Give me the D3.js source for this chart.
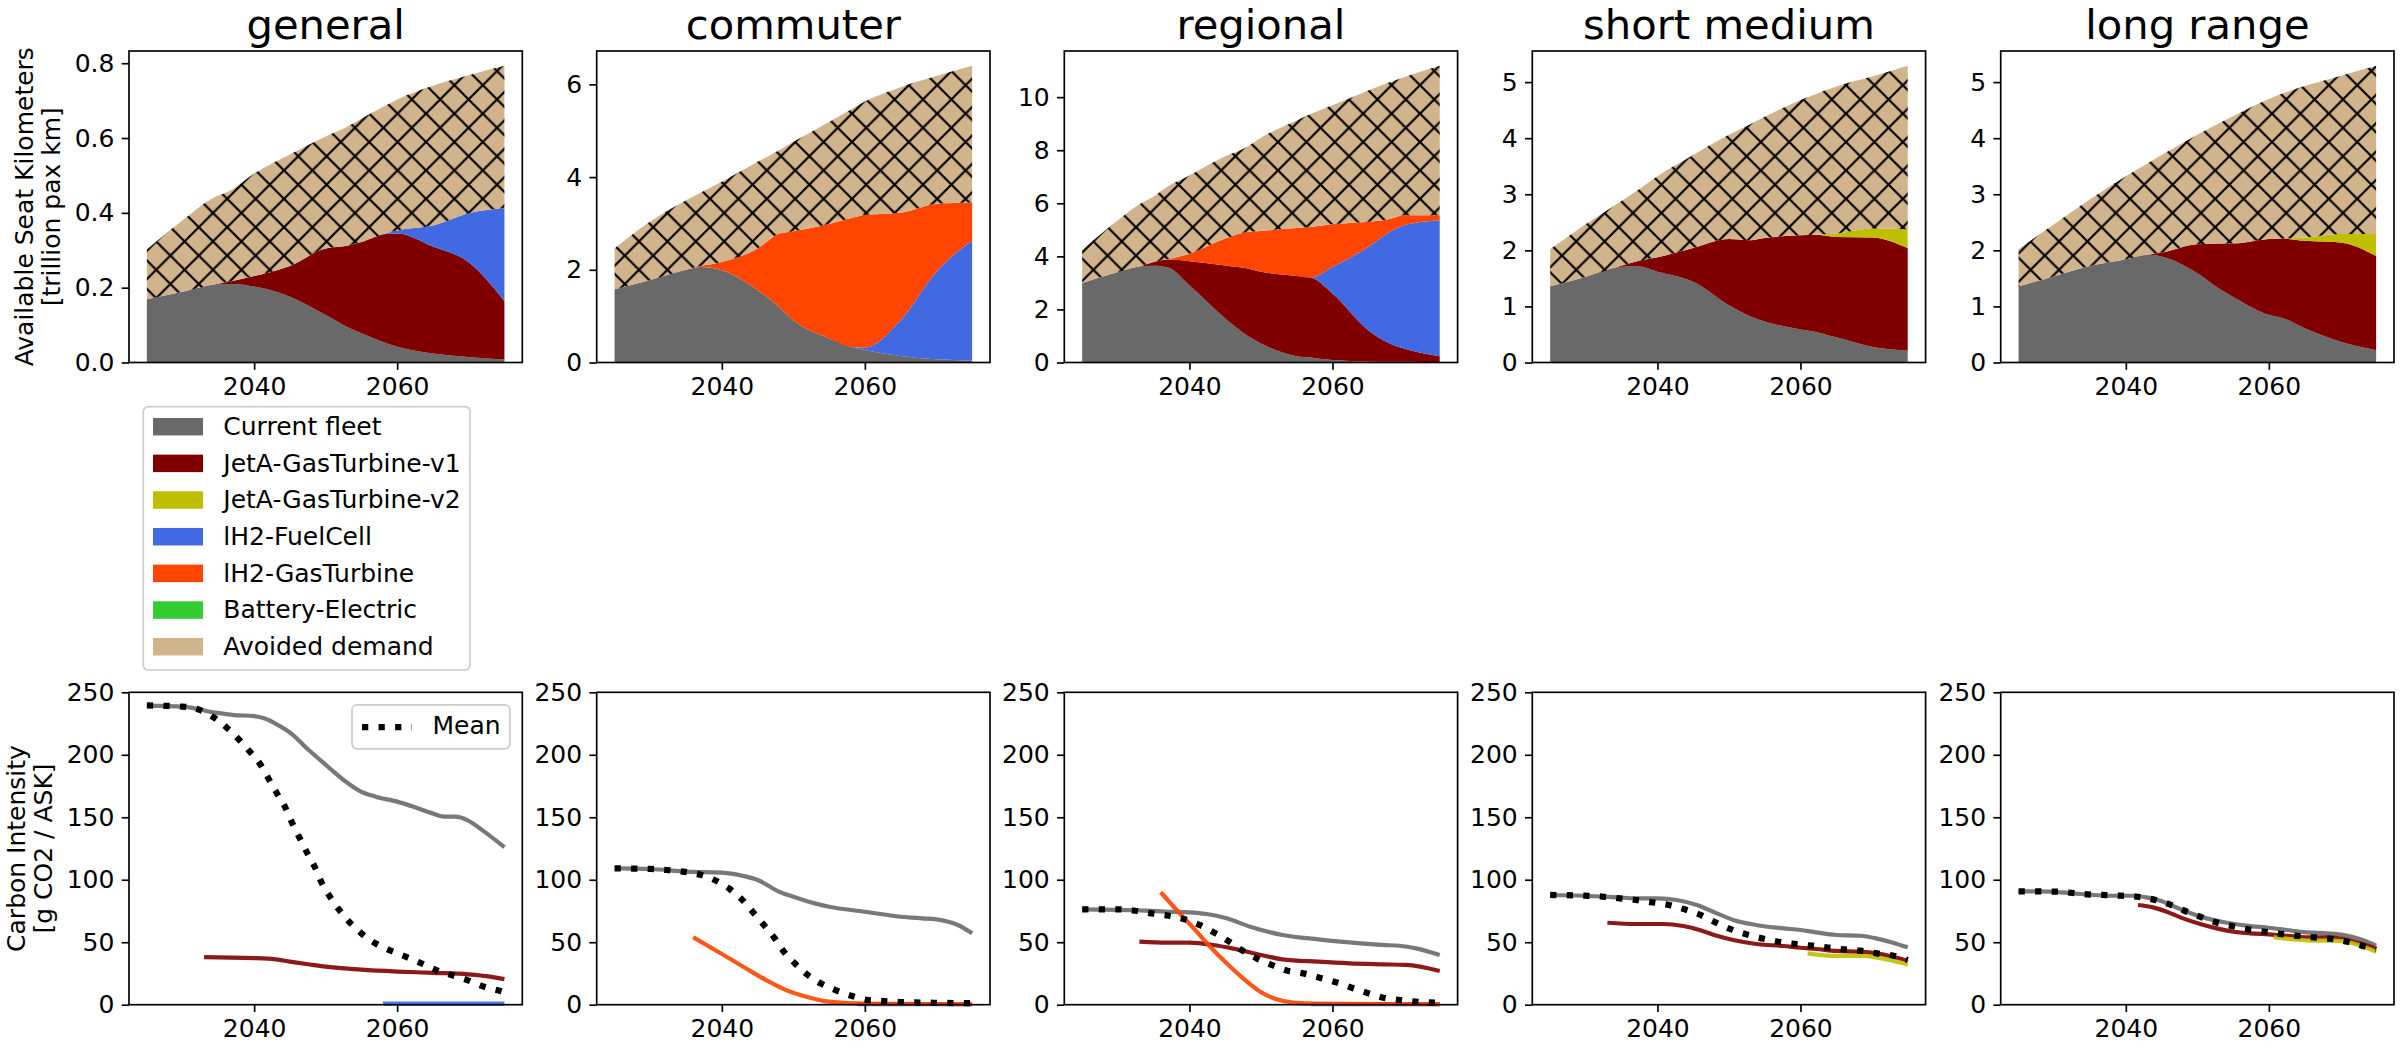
<!DOCTYPE html>
<html>
<head>
<meta charset="utf-8">
<script src="https://cdn.jsdelivr.net/npm/d3@7"></script>
<style>
  body { margin: 0; background: #fff; }
  svg { display: block; font-family: "DejaVu Sans", sans-serif; }
</style>
</head>
<body>
<svg id="chart" width="2400" height="1050"></svg>
<script>
// ---------------- data ----------------
const panelTitles = ["general", "commuter", "regional", "short medium", "long range"];
const techNames = ["Current fleet", "JetA-GasTurbine-v1", "JetA-GasTurbine-v2", "lH2-FuelCell",
                   "lH2-GasTurbine", "Battery-Electric", "Avoided demand"];
const techColors = ["#696969", "#800000", "#bfbf00", "#4169e1", "#ff4500", "#32cd32", "#d2b48c"];

const xTicks = [2040, 2060];
const topTicks = [[0, 0.2, 0.4, 0.6, 0.8], [0, 2, 4, 6], [0, 2, 4, 6, 8, 10], [0, 1, 2, 3, 4, 5], [0, 1, 2, 3, 4, 5]];
const ciTicks = [0, 50, 100, 150, 200, 250];

// available seat km per technology [trillion pax km]
const genYears   = [2025, 2030, 2034, 2037, 2040, 2045, 2050, 2053, 2055, 2058, 2060, 2065, 2070, 2075];
const genFleet   = [.169, .189, .207, .210, .203, .176, .127, .095, .078, .055, .042, .024, .015, .008];
const genV1      = [0, 0, 0, .008, .028, .082, .178, .217, .244, .288, .303, .286, .253, .156];
const genFC      = [0, 0, 0, 0, 0, 0, 0, 0, 0, 0, .008, .056, .131, .248];
const genAvoided = [.133, .191, .230, .245, .274, .298, .299, .318, .330, .340, .350, .374, .369, .381];

const comYears   = [2025, 2030, 2035, 2037, 2040, 2045, 2048, 2050, 2055, 2058, 2060, 2065, 2070, 2075];
const comFleet   = [1.58, 1.78, 2.0, 2.06, 1.99, 1.56, 1.2, .91, .52, .34, .27, .14, .07, .04];
const comFC      = [0, 0, 0, 0, 0, 0, 0, 0, 0, 0, .05, .77, 1.89, 2.59];
const comGT      = [0, 0, 0, .02, .18, .90, 1.58, 1.92, 2.47, 2.77, 2.86, 2.32, 1.46, .82];
const comAvoided = [.88, 1.26, 1.50, 1.58, 1.73, 1.87, 1.80, 1.93, 2.20, 2.34, 2.45, 2.71, 2.76, 2.95];

const regYears   = [2025, 2030, 2033, 2035, 2037, 2040, 2045, 2048, 2050, 2055, 2057, 2060, 2065, 2068, 2070, 2075];
const regFleet   = [3.0, 3.41, 3.62, 3.65, 3.58, 2.91, 1.66, 1.03, .72, .24, .19, .09, .04, .03, .025, .01];
const regV1      = [0, 0, 0, .14, .30, .91, 2.0, 2.52, 2.70, 3.02, 3.01, 2.51, 1.18, .69, .505, .23];
const regFC      = [0, 0, 0, 0, 0, 0, 0, 0, 0, 0, 0, 1.0, 3.13, 4.2, 4.64, 5.12];
const regGT      = [0, 0, 0, 0, .02, .28, 1.01, 1.37, 1.54, 1.81, 1.91, 1.61, .95, .49, .38, .19];
const regAvoided = [1.25, 1.95, 2.34, 2.47, 2.74, 2.95, 3.10, 3.20, 3.51, 4.05, 4.26, 4.48, 4.95, 5.15, 5.20, 5.63];

const smYears    = [2025, 2030, 2034, 2037, 2040, 2045, 2050, 2053, 2055, 2060, 2062, 2065, 2070, 2075];
const smFleet    = [1.36, 1.53, 1.69, 1.72, 1.62, 1.44, 1.02, .82, .73, .59, .55, .45, .28, .21];
const smV1       = [0, 0, 0, .08, .255, .60, 1.18, 1.36, 1.49, 1.68, 1.73, 1.79, 1.95, 1.83];
const smV2       = [0, 0, 0, 0, 0, 0, 0, 0, 0, 0, 0, .06, .16, .335];
const smAvoided  = [.66, .94, 1.11, 1.25, 1.445, 1.66, 1.86, 2.07, 2.16, 2.41, 2.50, 2.62, 2.71, 2.915];

const lrYears    = [2025, 2030, 2035, 2040, 2043, 2045, 2050, 2053, 2055, 2060, 2062, 2065, 2070, 2075];
const lrFleet    = [1.36, 1.54, 1.72, 1.84, 1.92, 1.89, 1.59, 1.32, 1.17, .85, .79, .61, .37, .22];
const lrV1       = [0, 0, 0, 0, 0, .07, .52, .80, .95, 1.35, 1.42, 1.56, 1.77, 1.68];
const lrV2       = [0, 0, 0, 0, 0, 0, 0, 0, 0, 0, 0, .06, .15, .39];
const lrAvoided  = [.66, .93, 1.19, 1.48, 1.63, 1.74, 1.95, 2.14, 2.27, 2.50, 2.59, 2.70, 2.82, 3.00];

// carbon intensity [g CO2 / ASK] as [year, value]
const genCiFleet = [[2025,239.3],[2030,238.5],[2034.6,233.7],[2037.2,231.8],[2040,231],[2041.5,229],[2043.1,224.6],[2045.2,217],[2047.4,205],[2049,197],[2050.6,189],[2052.7,179],[2054.8,171],[2057,166.5],[2060,162.5],[2062.3,158.4],[2065,153],[2066.6,150.5],[2068.2,150.5],[2069.8,147.7],[2071.9,139.7],[2075,126]];
const genCiV1    = [[2033,38],[2035,37.8],[2040,37.3],[2043,36.3],[2045,34.5],[2048,32],[2050,30.5],[2055,28],[2060,26.5],[2065,25.5],[2070,24.3],[2073,22.5],[2075,20.5]];
const genCiFC    = [[2058,0.8],[2075,0.8]];
const genCiMean  = [[2025,239.5],[2030,238.5],[2032.4,235.9],[2034.4,229.7],[2036.3,221],[2037.9,212],[2039.4,202.5],[2040.9,192],[2042,181],[2043.2,169],[2044.3,158.5],[2045.3,145.7],[2046.4,133],[2047.4,121.7],[2048.5,110],[2049.4,98],[2050.6,86.4],[2051.9,75.8],[2053.4,65.6],[2055.1,56.6],[2057,49],[2059.1,43.2],[2061.2,38.4],[2063.4,33.1],[2065.5,27.7],[2067.6,23.7],[2069.8,19.7],[2072.2,14.4],[2074.3,11.2],[2075,10]];

const comCiFleet = [[2025,109.1],[2030,108.6],[2035,106.5],[2040,105.7],[2043,103],[2045,99.8],[2048,90.4],[2050,86.4],[2053,81.1],[2055,78.4],[2060,74.4],[2065,70.4],[2068,69.1],[2070,68.3],[2073,63.8],[2075,57.1]];
const comCiFC    = [[2059,0.5],[2075,0.5]];
const comCiGT    = [[2036,54],[2040,40.6],[2043.4,29],[2046.2,19.7],[2049,11.7],[2051.8,6.4],[2055,2.4],[2060,0.8],[2075,0.5]];
const comCiMean  = [[2025,109.1],[2030,108.6],[2032.3,107.8],[2034.6,106.5],[2036.8,104.3],[2039,99.8],[2041,93.1],[2042.8,84.3],[2044.3,74.4],[2045.8,64.3],[2047.3,53.9],[2048.6,43],[2050.2,33.1],[2051.9,24.3],[2053.8,17.1],[2055.9,11.7],[2058.1,7.2],[2060.5,3.7],[2062.7,2.9],[2065,2.1],[2070,1.5],[2075,1.2]];

const regCiFleet = [[2025,76.3],[2032,75.7],[2037,74.4],[2040,73.9],[2042.4,72.6],[2045.2,69.1],[2048.5,62.4],[2053,55.8],[2058,52.3],[2062.4,49.9],[2067,47.8],[2069.4,47.2],[2071.7,45.1],[2075,39.8]];
const regCiV1    = [[2033,50.4],[2037,49.6],[2040,49.6],[2043.3,47.8],[2046,45.1],[2050,39.8],[2053,36.3],[2058,34.4],[2062.4,33.1],[2067,32.3],[2070.3,31.8],[2075,27]];
const regCiFC    = [[2057,0.5],[2075,0.5]];
const regCiGT    = [[2036,90],[2038.2,75.8],[2040.6,61.1],[2042.9,46.4],[2045.2,33.1],[2047.5,21.1],[2049.9,10.4],[2052.2,4.3],[2054.5,1.6],[2057.8,0.8],[2075,0.5]];
const regCiMean  = [[2025,76.3],[2030.2,76.3],[2032.4,75.2],[2034.7,73.1],[2037.1,71.2],[2039.3,68.3],[2041.4,63.8],[2043.5,57.6],[2045.4,51],[2047.3,43.8],[2049.4,37.1],[2051.5,31.8],[2053.7,27.2],[2055.9,25.1],[2058.2,21.6],[2060.5,17.9],[2062.7,13.6],[2064.8,9.6],[2067.1,5.6],[2069.4,3.7],[2071.7,2.4],[2075,1.6]];

const smCiFleet  = [[2025,87.8],[2029.6,87.2],[2034.3,85.9],[2037,85.1],[2040,85.1],[2042.7,83.8],[2045.5,79.8],[2048.3,73.1],[2050.6,67.8],[2053.8,63.8],[2057.6,61.1],[2060,59.8],[2062.2,57.9],[2065,55.8],[2068.3,55.2],[2070.6,53.1],[2072.9,49.6],[2075,45.9]];
const smCiV1     = [[2033,65.6],[2037,64.6],[2040.8,64.6],[2043.6,63],[2045.9,59.8],[2048.3,55.2],[2050.6,51.8],[2053.8,48.6],[2057.6,47],[2060,45.6],[2062.2,44.6],[2065,43],[2068.3,42.4],[2070.6,41.1],[2072.9,38.4],[2075,35.2]];
const smCiV2     = [[2061,41.1],[2065,39],[2068.3,39],[2070.6,37.9],[2072.9,35.2],[2075,32.3]];
const smCiMean   = [[2025,87.8],[2030,87.2],[2032.3,86.5],[2034.7,85.1],[2037,83.8],[2039.3,81.9],[2041.6,79.8],[2043.8,76.3],[2046,71.8],[2048.1,65.9],[2050.3,60.3],[2052.4,56.3],[2054.6,53.1],[2056.9,50.4],[2059.2,48.6],[2061.6,47.2],[2063.9,45.6],[2066.1,44.3],[2068.4,43.2],[2070.7,41.1],[2073,39.2],[2075,35.8]];

const lrCiFleet  = [[2025,90.7],[2029.3,90.5],[2032.6,89.1],[2035.4,87.8],[2038.2,87.2],[2041,87.2],[2042.9,85.9],[2044.8,83.2],[2046.6,79],[2048.5,74.4],[2051.3,69.1],[2054.1,65.6],[2057.4,62.9],[2060,61.6],[2062.5,59.8],[2065.3,57.9],[2068.1,57.1],[2070.5,55.8],[2072.8,52.3],[2075,47.2]];
const lrCiV1     = [[2041.7,79.8],[2043.8,77.9],[2045.7,74.4],[2048,69.1],[2050.4,64.6],[2052.7,61.1],[2055.1,58.4],[2057.4,57.1],[2060,56.3],[2062.5,55.2],[2065.3,53.9],[2068.1,53.9],[2070.5,52.6],[2072.8,49.1],[2075,44.6]];
const lrCiV2     = [[2060.7,53.9],[2063.5,52.3],[2066.3,51.2],[2069.1,51.2],[2071.4,49.6],[2075,42.4]];
const lrCiMean   = [[2025,90.7],[2030,90.5],[2034.6,88.3],[2039.3,87.2],[2041.6,86.4],[2043.8,84.3],[2046.1,80.3],[2048.2,75.2],[2050.4,70.4],[2052.6,65.9],[2054.8,63],[2057.1,60.3],[2059.4,58.4],[2061.6,56.6],[2064,55],[2066.3,53.9],[2068.6,52.8],[2071,50.4],[2073,47.2],[2075,44.5]];

// tables built from the arrays above (series order = techNames)
const askTables = [
  { years: genYears, series: [genFleet, genV1, null, genFC, null, null, genAvoided] },
  { years: comYears, series: [comFleet, null, null, comFC, comGT, null, comAvoided] },
  { years: regYears, series: [regFleet, regV1, null, regFC, regGT, null, regAvoided] },
  { years: smYears,  series: [smFleet, smV1, smV2, null, null, null, smAvoided] },
  { years: lrYears,  series: [lrFleet, lrV1, lrV2, null, null, null, lrAvoided] }
];
const ciTables = [
  { lines: [genCiFleet, genCiV1, null, genCiFC, null, null], mean: genCiMean },
  { lines: [comCiFleet, null, null, comCiFC, comCiGT, null], mean: comCiMean },
  { lines: [regCiFleet, regCiV1, null, regCiFC, regCiGT, null], mean: regCiMean },
  { lines: [smCiFleet, smCiV1, smCiV2, null, null, null], mean: smCiMean },
  { lines: [lrCiFleet, lrCiV1, lrCiV2, null, null, null], mean: lrCiMean }
];

// ---------------- layout ----------------
const colX = [129, 596.7, 1064.3, 1532.3, 2000.7];
const axW = 393.3;
const topRow = { y0: 51, y1: 362.5 };
const botRow = { y0: 692.3, y1: 1004.7 };
const fs = 25, titleFs = 41.7, spineW = 1.67, tickLen = 7.3;
const hs = 28.4;   // hatch cell

const svg = d3.select("#chart");
svg.append("rect").attr("width", 2400).attr("height", 1050).attr("fill", "#fff");

const defs = svg.append("defs");
const hatch = defs.append("pattern")
    .attr("id", "hatchX")
    .attr("patternUnits", "userSpaceOnUse")
    .attr("width", hs).attr("height", hs);
hatch.append("rect").attr("width", hs).attr("height", hs).attr("fill", techColors[6]);
const e = 6;
hatch.append("path")
    .attr("d", `M0,${hs}L${hs},0M${-e},${e}L${e},${-e}M${hs - e},${hs + e}L${hs + e},${hs - e}` +
               `M0,0L${hs},${hs}M${-e},${hs - e}L${e},${hs + e}M${hs - e},${-e}L${hs + e},${e}`)
    .attr("stroke", "#000").attr("stroke-width", 2.2).attr("fill", "none");

const fillFor = k => k === 6 ? "url(#hatchX)" : techColors[k];

function styleAxis(g) {
  g.select(".domain").remove();
  g.selectAll(".tick line").attr("stroke", "#000").attr("stroke-width", spineW);
  g.selectAll(".tick text").attr("fill", "#000").style("font-size", fs + "px")
    .style("font-family", "'DejaVu Sans', sans-serif");
}

function drawFrame(i, x, y, row, yTickVals, yFmt) {
  svg.append("g")
      .attr("transform", `translate(0,${row.y1})`)
      .call(d3.axisBottom(x).tickValues(xTicks).tickSize(tickLen).tickPadding(7.3).tickFormat(d3.format("d")))
      .call(styleAxis);
  svg.append("g")
      .attr("transform", `translate(${colX[i]},0)`)
      .call(d3.axisLeft(y).tickValues(yTickVals).tickSize(tickLen).tickPadding(7.3).tickFormat(yFmt))
      .call(styleAxis);
  svg.append("rect")
      .attr("x", colX[i]).attr("y", row.y0)
      .attr("width", axW).attr("height", row.y1 - row.y0)
      .attr("fill", "none").attr("stroke", "#000").attr("stroke-width", spineW);
}

// ---------------- top row: stacked ASK ----------------
askTables.forEach((tbl, i) => {
  const rows = tbl.years.map((yr, j) => {
    const r = { year: yr };
    techNames.forEach((n, k) => { r[n] = tbl.series[k] ? tbl.series[k][j] : 0; });
    return r;
  });
  const stacked = d3.stack().keys(techNames)(rows);
  const ymax = d3.max(stacked[stacked.length - 1], d => d[1]) * 1.05;

  const x = d3.scaleLinear().domain([2022.5, 2077.5]).range([colX[i], colX[i] + axW]);
  const y = d3.scaleLinear().domain([0, ymax]).range([topRow.y1, topRow.y0]);

  const area = d3.area()
      .x(d => x(d.data.year))
      .y0(d => y(d[0]))
      .y1(d => y(d[1]))
      .curve(d3.curveMonotoneX);

  svg.append("g").selectAll("path")
    .data(stacked)
    .join("path")
      .attr("d", area)
      .attr("fill", (d, k) => fillFor(k));

  drawFrame(i, x, y, topRow, topTicks[i], i === 0 ? d3.format(".1f") : d3.format("d"));

  svg.append("text")
      .attr("x", colX[i] + axW / 2).attr("y", topRow.y0 - 12.5)
      .attr("text-anchor", "middle")
      .style("font-size", titleFs + "px")
      .text(panelTitles[i]);
});

// ---------------- bottom row: carbon intensity ----------------
ciTables.forEach((tbl, i) => {
  const x = d3.scaleLinear().domain([2022.5, 2077.5]).range([colX[i], colX[i] + axW]);
  const y = d3.scaleLinear().domain([0, 250]).range([botRow.y1, botRow.y0]);
  const line = d3.line().x(d => x(d[0])).y(d => y(d[1])).curve(d3.curveMonotoneX);

  const g = svg.append("g");
  tbl.lines.forEach((pts, k) => {
    if (!pts) return;
    g.append("path")
        .attr("d", line(pts))
        .attr("fill", "none")
        .attr("stroke", techColors[k])
        .attr("stroke-opacity", 0.9)
        .attr("stroke-width", 4.2);
  });
  g.append("path")
      .attr("d", line(tbl.mean))
      .attr("fill", "none")
      .attr("stroke", "#000")
      .attr("stroke-width", 6.25)
      .attr("stroke-dasharray", "6.25,10.3");

  drawFrame(i, x, y, botRow, ciTicks, d3.format("d"));
});

// ---------------- axis labels ----------------
function yLabel(lines, cx, cy) {
  const t = svg.append("text")
      .attr("transform", `translate(${cx},${cy}) rotate(-90)`)
      .attr("text-anchor", "middle")
      .style("font-size", fs + "px");
  lines.forEach((s, j) => t.append("tspan").attr("x", 0).attr("y", j * 27).text(s));
}
yLabel(["Available Seat Kilometers", "[trillion pax km]"], 33, (topRow.y0 + topRow.y1) / 2);
yLabel(["Carbon Intensity", "[g CO2 / ASK]"], 25, (botRow.y0 + botRow.y1) / 2);

// ---------------- legends ----------------
const leg = svg.append("g");
leg.append("rect")
    .attr("x", 143.3).attr("y", 406.7).attr("width", 326.7).attr("height", 263.3)
    .attr("rx", 5).attr("fill", "#fff").attr("fill-opacity", 0.8)
    .attr("stroke", "#cccccc").attr("stroke-width", spineW);
techNames.forEach((n, k) => {
  const cy = 426.7 + k * 36.67;
  leg.append("rect")
      .attr("x", 153).attr("y", cy - 8.75).attr("width", 50).attr("height", 17.5)
      .attr("fill", techColors[k]);
  leg.append("text")
      .attr("x", 223.3).attr("y", cy + 8.3)
      .style("font-size", fs + "px")
      .text(n);
});

const mleg = svg.append("g");
mleg.append("rect")
    .attr("x", 352).attr("y", 704.8).attr("width", 157.9).attr("height", 44)
    .attr("rx", 5).attr("fill", "#fff").attr("fill-opacity", 0.8)
    .attr("stroke", "#cccccc").attr("stroke-width", spineW);
mleg.append("line")
    .attr("x1", 362).attr("x2", 412).attr("y1", 727).attr("y2", 727)
    .attr("stroke", "#000").attr("stroke-width", 6.25).attr("stroke-dasharray", "6.25,10.3");
mleg.append("text")
    .attr("x", 432.5).attr("y", 734.3)
    .style("font-size", fs + "px")
    .text("Mean");
</script>
</body>
</html>
